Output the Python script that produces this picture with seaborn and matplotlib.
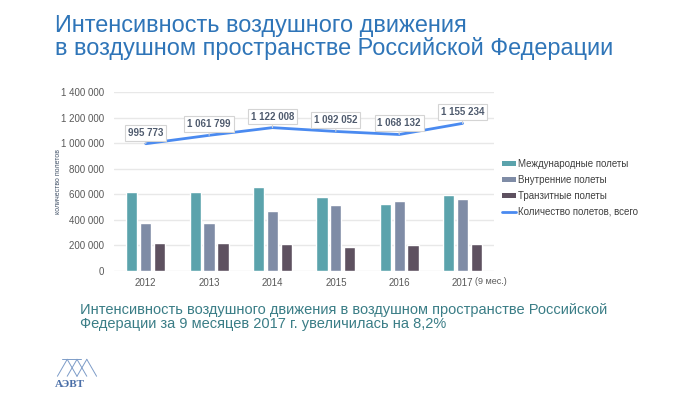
import numpy as np
import pandas as pd
import matplotlib
matplotlib.use("Agg")
import matplotlib.pyplot as plt
from matplotlib.lines import Line2D
from matplotlib.patches import Patch
import seaborn as sns

# --- Data ---
years = ["2012", "2013", "2014", "2015", "2016", "2017"]
international = [620000, 620000, 654000, 576000, 523000, 594000]
domestic = [372000, 372000, 466000, 518000, 545000, 563000]
transit = [215000, 215000, 207000, 188000, 199000, 210000]
total = [995773, 1061799, 1122008, 1092052, 1068132, 1155234]

series_names = ["Международные полеты", "Внутренние полеты", "Транзитные полеты"]
line_name = "Количество полетов, всего"
colors = ["#5ba3ac", "#7f8ca6", "#5e5160"]
line_color = "#4a8af0"

title = "Интенсивность воздушного движения\nв воздушном пространстве Российской Федерации"
note = ("Интенсивность воздушного движения в воздушном пространстве Российской\n"
        "Федерации за 9 месяцев 2017 г. увеличилась на 8,2%")

df = pd.DataFrame({
    "year": years * 3,
    "kind": sum([[n] * len(years) for n in series_names], []),
    "value": international + domestic + transit,
})

sns.set_theme(style="white")
plt.rcParams["font.family"] = ["Liberation Sans", "DejaVu Sans"]

fig = plt.figure(figsize=(7, 3.94), dpi=100)
ax = fig.add_axes([0.163, 0.313, 0.543, 0.453])

sns.barplot(data=df, x="year", y="value", hue="kind", palette=colors,
            width=0.66, gap=0.19, ax=ax, legend=False, saturation=1)
sns.lineplot(x=np.arange(len(years)), y=total, color=line_color, lw=2, ax=ax)

# value labels on the total line
for i, v in enumerate(total):
    label = f"{v:,}".replace(",", " ")
    ax.annotate(label, (i, v), xytext=(0, 8), textcoords="offset points",
                ha="center", va="center", fontsize=7, fontweight="bold",
                color="#4f5b6e",
                bbox=dict(boxstyle="square,pad=0.3", fc="white", ec="#d4d4d4", lw=0.8),
                arrowprops=dict(arrowstyle="-", color="#d4d4d4", lw=0.8,
                                shrinkA=0, shrinkB=0))

ax.set_xlim(-0.5, len(years) - 0.5)
ax.set_ylim(0, 1400000)
ax.set_yticks(np.arange(0, 1400001, 200000))
ax.set_yticklabels([f"{int(t):,}".replace(",", " ") for t in ax.get_yticks()])
ax.yaxis.grid(True, color="#e8e8e8", lw=1)
ax.set_axisbelow(True)
for s in ax.spines.values():
    s.set_visible(False)
ax.tick_params(axis="both", length=0, labelsize=7, colors="#595959")
ax.tick_params(axis="y", pad=7)
ax.tick_params(axis="x", pad=5)
ax.set_xlabel("")
ax.set_ylabel("количество полетов", fontsize=5, color="#44546a")
ax.yaxis.set_label_coords(-0.137, 0.5)
ax.annotate("(9 мес.)", (len(years) - 1, 0), xytext=(9, -7.8), textcoords="offset points",
            ha="left", va="center", fontsize=6.5, color="#595959")

# legend
handles = [Patch(facecolor=c, edgecolor="none") for c in colors]
handles.append(Line2D([0], [0], color=line_color, lw=2))
fig.legend(handles, series_names + [line_name], loc="upper left",
           bbox_to_anchor=(0.711, 0.607), frameon=False, fontsize=7,
           handlelength=1.45, handleheight=0.4, handletextpad=0.2,
           labelspacing=0.62, labelcolor="#404040", borderaxespad=0)

# titles
fig.text(0.078, 0.965, title, fontsize=16.9, color="#2f75b8",
         ha="left", va="top", linespacing=1.0)
fig.text(0.114, 0.232, note, fontsize=10.5, color="#3a7d86",
         ha="left", va="top", linespacing=1.05)

# logo: simple lattice mark and letters
lx = [0.082, 0.096, 0.110, 0.124]
for x0 in lx[:-1]:
    fig.add_artist(Line2D([x0, x0 + 0.014], [0.045, 0.088], color="#7d9cc8", lw=0.7))
    fig.add_artist(Line2D([x0 + 0.014, x0 + 0.028], [0.088, 0.045], color="#7d9cc8", lw=0.7))
fig.add_artist(Line2D([0.088, 0.116], [0.088, 0.088], color="#7d9cc8", lw=0.7))
fig.text(0.1, 0.013, "АЭВТ", fontsize=8, fontweight="bold", color="#4a6fa8",
         family="Liberation Serif", ha="center", va="bottom")

fig.savefig("out.png", dpi=100)
